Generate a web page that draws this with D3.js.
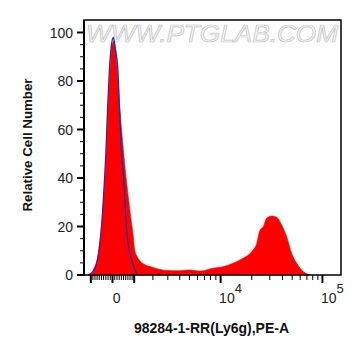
<!DOCTYPE html>
<html><head><meta charset="utf-8">
<script src="https://cdn.jsdelivr.net/npm/d3@7"></script>
<style>body{margin:0;background:#fff}svg{display:block}</style>
</head><body>
<svg id="c" width="361" height="356"></svg>
<script>
// ---- data (fluorescence PE-A value, relative cell number) ----
const redX = [-1006,-928,-847,-719,-612,-534,-460,-351,-278,-202,-112,-45,22,80,112,160,215,337,490,644,833,957,1025,1150,1327,1554,1873,2255,2722,3325,4023,5061,6333,8452,10542,13157,16440,19967,22346,24065,25920,28000,31345,35105,39333,44083,49402,55389,64430,75120];
const redY = [0,0.8,2.8,5.5,10.3,15.8,24,37.8,51.5,68,84,93,96,96.5,95,90,84,68,51.5,37.8,24,15.8,10.3,7.5,5.5,4.2,3.4,2.6,2,1.8,1.8,2.1,1.6,2.8,3.4,4.8,6.9,9.6,13,18.5,19.9,23.4,24.3,23.8,20.6,15.8,8.9,4.8,1.4,0];
const blueX = [-1139,-928,-766,-612,-460,-369,-292,-224,-143,-45,36,112,247,315,406,520,598,672,752,909,1040,1189];
const blueY = [0,1.2,3.4,10.3,24,37.8,51.5,68,84,95,98,94,84,68,51.5,37.8,24,15.8,10.3,5.5,2,0];
const yTicks = [0,20,40,60,80,100];
const yMinor = [5,10,15,25,30,35,45,50,55,65,70,75,85,90,95];
const xMajor = [-1000,0,1000,10000,100000];
const xMinor = [-900,-800,-700,-600,-500,-400,-300,-200,-100,100,200,300,400,500,600,700,800,900,2000,3000,4000,5000,6000,7000,8000,9000,20000,30000,40000,50000,60000,70000,80000,90000];
const xLabels = [{v:0,base:"0",sup:""},{v:10000,base:"10",sup:"4"},{v:100000,base:"10",sup:"5"}];
const xDomain = [-1342, 153540];
const yDomain = [0, 100];
const xTitle = "98284-1-RR(Ly6g),PE-A";
const yTitle = "Relative Cell Number";
const watermark = "WWW.PTGLAB.COM";

// ---- logicle-like transform ----
const K = 750, P = 1.57;
function S(t){const s=Math.sign(t),a=Math.abs(t);return s*K*(Math.pow(10,a)-P*P*Math.pow(10,-a/P)+P*P-1);}
function tOf(v){let lo=-5,hi=5;for(let i=0;i<80;i++){const m=(lo+hi)/2;if(S(m)<v)lo=m;else hi=m;}return (lo+hi)/2;}

const L=84,R=341,T=20,B=275;
const xLin = d3.scaleLinear().domain([tOf(xDomain[0]),tOf(xDomain[1])]).range([L,R]);
const x = v => xLin(tOf(v));
const y = d3.scaleLinear().domain(yDomain).range([B,32.5]);

const svg = d3.select("#c");
const font = "'Liberation Sans', Arial, sans-serif";

// watermark
svg.append("text").attr("x",86).attr("y",42).attr("textLength",252).attr("lengthAdjust","spacingAndGlyphs")
  .attr("font-family",font).attr("font-size",23).attr("font-style","italic")
  .attr("fill","#f6f6f6").attr("stroke","#c4c4c4").attr("stroke-width",0.7).text(watermark);

const redPts = redX.map((v,i)=>[x(v),y(redY[i])]);
const bluePts = blueX.map((v,i)=>[x(v),y(blueY[i])]);
const area = d3.area().x(d=>d[0]).y0(y(0)).y1(d=>d[1]).curve(d3.curveMonotoneX);
const line = d3.line().x(d=>d[0]).y(d=>d[1]).curve(d3.curveMonotoneX);

svg.append("path").attr("d",area(redPts)).attr("fill","#ff0000").attr("stroke","#ff0000").attr("stroke-width",0.6);
svg.append("path").attr("d",line(bluePts)).attr("fill","none").attr("stroke","#2d2a9c").attr("stroke-width",1.3);

// frame
svg.append("rect").attr("x",L).attr("y",T).attr("width",R-L).attr("height",B-T)
  .attr("fill","none").attr("stroke","#000").attr("stroke-width",1.5);
svg.append("line").attr("x1",L).attr("x2",L).attr("y1",T).attr("y2",B+1).attr("stroke","#000").attr("stroke-width",2);

// y ticks
yTicks.forEach(v=>{
  svg.append("line").attr("x1",L-7).attr("x2",L).attr("y1",y(v)).attr("y2",y(v)).attr("stroke","#000").attr("stroke-width",2);
  svg.append("text").attr("x",73).attr("y",y(v)).attr("dy","0.36em").attr("text-anchor","end")
    .attr("font-family",font).attr("font-size",14).attr("fill","#222").text(v);
});
yMinor.forEach(v=>{
  svg.append("line").attr("x1",L-4).attr("x2",L).attr("y1",y(v)).attr("y2",y(v)).attr("stroke","#000").attr("stroke-width",1);
});
// x ticks
xMajor.forEach(v=>{
  svg.append("line").attr("x1",x(v)).attr("x2",x(v)).attr("y1",B).attr("y2",B+8).attr("stroke","#000").attr("stroke-width",2);
});
xMinor.forEach(v=>{
  svg.append("line").attr("x1",x(v)).attr("x2",x(v)).attr("y1",B).attr("y2",B+5).attr("stroke","#000").attr("stroke-width",1);
});
xLabels.forEach(d=>{
  const t = svg.append("text").attr("y",303).attr("font-family",font).attr("font-size",14).attr("fill","#222");
  if(d.sup===""){ t.attr("x",x(d.v)+4.2).attr("text-anchor","middle").text(d.base); }
  else {
    t.attr("x",x(d.v)-1.5).attr("text-anchor","start");
    t.append("tspan").text(d.base);
    t.append("tspan").attr("dy",-10).attr("font-size",13).text(d.sup);
  }
});

// titles
svg.append("text").attr("x",211.5).attr("y",333).attr("text-anchor","middle")
  .attr("font-family",font).attr("font-size",14).attr("font-weight","bold").attr("fill","#111").text(xTitle);
svg.append("text").attr("transform","translate(32,145) rotate(-90)").attr("text-anchor","middle")
  .attr("font-family",font).attr("font-size",13.3).attr("font-weight","bold").attr("fill","#111").text(yTitle);
</script>
</body></html>
